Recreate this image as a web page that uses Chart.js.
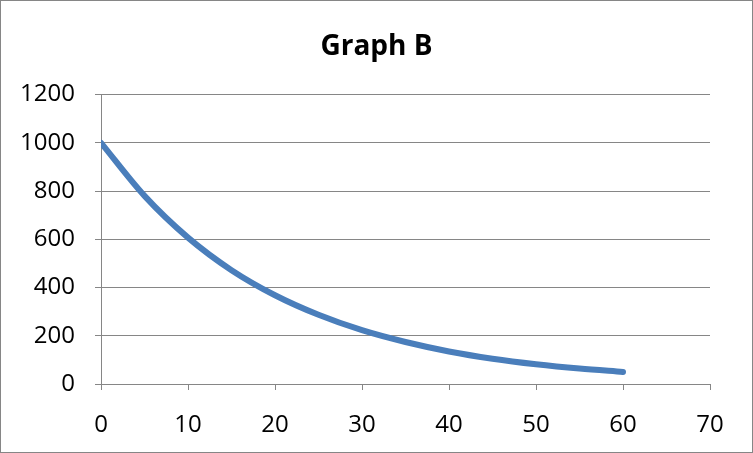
<!DOCTYPE html>
<html>
<head>
<meta charset="utf-8">
<script src="https://cdn.jsdelivr.net/npm/chart.js@4/dist/chart.umd.min.js"></script>
<style>
  html, body { margin: 0; padding: 0; background: #fff; }
  #wrap { width: 753px; height: 453px; position: relative; }
</style>
</head>
<body>
<div id="wrap"><canvas id="c" width="753" height="453"></canvas></div>
<script>
const titleText = "Graph B";
const xValues = [0, 5, 10, 15, 20, 25, 30, 35, 40, 45, 50, 55, 60];
const yValues = [1000, 780, 607, 472, 368, 287, 223, 174, 135, 105, 82, 64, 50];
const xAxisRange = [0, 70, 10];
const yAxisRange = [0, 1200, 200];

const points = xValues.map((x, i) => ({ x: x, y: yValues[i] }));
const gray = '#868686';
const tickFont = { family: 'Open Sans', size: 24 };

const frame = {
  id: 'frame',
  beforeDraw(chart) {
    const ctx = chart.ctx;
    ctx.save();
    ctx.fillStyle = '#ffffff';
    ctx.fillRect(0, 0, chart.width, chart.height);
    ctx.strokeStyle = gray;
    ctx.lineWidth = 1;
    ctx.strokeRect(0.5, 0.5, chart.width - 1, chart.height - 1);
    ctx.restore();
  }
};

new Chart(document.getElementById('c'), {
  type: 'scatter',
  data: {
    datasets: [{
      data: points,
      showLine: true,
      borderColor: '#4A7EBB',
      backgroundColor: '#4A7EBB',
      borderWidth: 6,
      borderCapStyle: 'round',
      borderJoinStyle: 'round',
      pointRadius: 0,
      pointHoverRadius: 0,
      cubicInterpolationMode: 'monotone'
    }]
  },
  options: {
    responsive: false,
    animation: false,
    devicePixelRatio: 1,
    layout: { padding: 0 },
    plugins: {
      legend: { display: false },
      tooltip: { enabled: false },
      title: {
        display: true,
        text: titleText,
        color: '#000',
        font: { family: 'Open Sans', size: 28, weight: 'bold', lineHeight: 1.2 },
        padding: { top: 30, bottom: 31 }
      }
    },
    scales: {
      x: {
        type: 'linear',
        min: xAxisRange[0], max: xAxisRange[1],
        afterFit(s) { s.height = 69; },
        ticks: { stepSize: xAxisRange[2], color: '#000', font: tickFont, padding: 21, maxRotation: 0,
                 callback: v => String(v) },
        grid: { drawOnChartArea: false, drawTicks: true, tickLength: 6, color: gray, lineWidth: 1 },
        border: { display: true, color: gray, width: 1 }
      },
      y: {
        type: 'linear',
        min: yAxisRange[0], max: yAxisRange[1],
        afterFit(s) { s.width = 101; },
        ticks: { stepSize: yAxisRange[2], color: '#000', font: tickFont, padding: 20,
                 callback: v => String(v) },
        grid: { drawOnChartArea: true, drawTicks: true, tickLength: 6, color: gray, lineWidth: 1 },
        border: { display: true, color: gray, width: 1 }
      },
      yRight: {
        type: 'linear',
        position: 'right',
        min: yAxisRange[0], max: yAxisRange[1],
        display: true,
        afterFit(s) { s.width = 43; },
        ticks: { display: false },
        grid: { display: false, drawTicks: false },
        border: { display: false }
      }
    }
  },
  plugins: [frame]
});
</script>
</body>
</html>
